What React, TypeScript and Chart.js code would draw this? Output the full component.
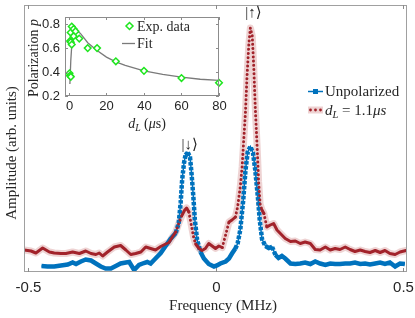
import React, { useEffect, useRef } from "react";
import { Chart, registerables } from "chart.js";
Chart.register(...registerables);

// ---------- main spectrum data ----------
const freqTicks = [-0.5, 0, 0.5];
const freqTickLabels = ["-0.5", "0", "0.5"];

const unpolFreq = [
  -0.464, -0.448, -0.43, -0.412, -0.394, -0.381, -0.372, -0.359, -0.346, -0.332, -0.319, -0.306, -0.293, -0.279,
  -0.266, -0.253, -0.239, -0.23, -0.217, -0.204, -0.191, -0.182, -0.173, -0.16, -0.146, -0.133, -0.12, -0.106,
  -0.098, -0.093, -0.089, -0.084, -0.08, -0.074, -0.068, -0.064, -0.059, -0.055, -0.049, -0.04, -0.031, -0.018,
  -0.004, 0.004, 0.013, 0.027, 0.036, 0.044, 0.053, 0.059, 0.066, 0.074, 0.08, 0.086, 0.093, 0.1, 0.106, 0.113,
  0.118, 0.124, 0.133, 0.142, 0.151, 0.16, 0.168, 0.177, 0.186, 0.2, 0.213, 0.226, 0.239, 0.253, 0.266, 0.279,
  0.293, 0.306, 0.319, 0.332, 0.346, 0.359, 0.372, 0.386, 0.399, 0.412, 0.426, 0.439, 0.452, 0.465, 0.479, 0.492,
  0.505,
];
const unpolAmp = [
  6, 5.5, 5.5, 6.5, 7.5, 9.5, 8, 10.5, 12.5, 11.5, 8.5, 5.5, 3.5, 3.5,
  6, 8.5, 9.5, 10, 2, 7, 9, 10, 8.5, 13.5, 19, 26, 33, 39,
  49, 69, 92, 109, 117, 119.5, 115, 99, 75, 52, 32, 20, 13.5, 8,
  5.5, 6.5, 8.5, 10.5, 13.5, 18.5, 23.5, 28.5, 42, 72, 102, 120, 125.5, 119, 102, 75,
  52, 33, 26, 24, 25, 17, 14, 16, 13.5, 8.5, 8, 8.5, 9.5, 8, 10.5, 8.5,
  7, 8.5, 8, 8, 8.5, 8.5, 9.5, 8, 8.5, 7.5, 8.5, 9.5, 8, 9.5, 5.5, 8.5,
  8,
];

const polFreq = [
  -0.51, -0.492, -0.479, -0.461, -0.443, -0.43, -0.412, -0.399, -0.381, -0.363, -0.346, -0.332, -0.319, -0.31,
  -0.301, -0.288, -0.27, -0.253, -0.239, -0.226, -0.213, -0.199, -0.186, -0.173, -0.16, -0.146, -0.133, -0.124,
  -0.115, -0.106, -0.098, -0.089, -0.082, -0.077, -0.071, -0.067, -0.062, -0.058, -0.053, -0.044, -0.036, -0.027,
  -0.018, -0.009, 0, 0.009, 0.018, 0.027, 0.036, 0.044, 0.053, 0.059, 0.066, 0.071, 0.075, 0.08, 0.084, 0.089,
  0.093, 0.098, 0.102, 0.106, 0.111, 0.115, 0.119, 0.124, 0.129, 0.137, 0.146, 0.155, 0.164, 0.173, 0.186, 0.2,
  0.213, 0.226, 0.239, 0.253, 0.266, 0.279, 0.293, 0.306, 0.319, 0.332, 0.346, 0.359, 0.372, 0.386, 0.399, 0.412,
  0.426, 0.439, 0.452, 0.465, 0.479, 0.492, 0.508,
];
const polAmp = [
  22, 21, 19, 24, 20, 19, 18.5, 18.5, 20, 18.5, 21, 18.5, 17.5, 19,
  16, 20, 25, 26.5, 22, 17.5, 18.5, 20, 25, 23.5, 22, 25.5, 28, 29.5,
  35, 40, 48.5, 57, 62, 64, 60, 52, 42, 34, 28, 23.5, 21.5, 23.5,
  28.5, 26, 23.5, 26, 24.5, 37, 50, 52, 55, 65, 85, 105, 130, 160, 195, 228,
  244, 236, 205, 165, 125, 90, 68, 62, 58.5, 45, 47, 48.5, 42, 38.5, 33.5, 30.5,
  31, 28.5, 30, 28.5, 22.5, 22, 25, 22, 23.5, 22.5, 25, 22.5, 20.5, 22, 20.5, 19.5,
  21.5, 19.5, 21.5, 18.5, 17.5, 20, 21.5,
];

const stateLabels = ["|\u2193\u27E9", "|\u2191\u27E9"];
const stateFreq = [-0.069, 0.101];
const stateAmp = [127, 259];

// ---------- inset data ----------
const delayData = [0.3, 0.6, 1.0, 0.6, 1.0, 1.5, 0.9, 1.5, 2.5, 3.5, 2.5, 5.5, 10, 15, 25, 40, 60, 80];
const polarizationData = [0.39, 0.37, 0.36, 0.66, 0.65, 0.63, 0.73, 0.78, 0.76, 0.74, 0.7, 0.68, 0.6, 0.6, 0.49, 0.41, 0.35, 0.31];
const fitDelay = [0.5, 1, 1.5, 2, 3, 4, 6, 8, 10, 15, 20, 25, 30, 40, 50, 60, 70, 80];
const fitPol = [0.3, 0.5, 0.62, 0.68, 0.73, 0.745, 0.725, 0.685, 0.645, 0.58, 0.525, 0.485, 0.455, 0.41, 0.38, 0.357, 0.34, 0.33];
const insetXTicks = [0, 20, 40, 60, 80];
const insetYTicks = [0.2, 0.4, 0.6, 0.8];

const BLUE = "#0072BD";
const RED = "#a2232b";
const PINK = "rgba(215,150,150,0.42)";
const GREEN = "#1ee61e";
const TXT = "#262626";
const SERIF = '"Liberation Serif", "DejaVu Serif", serif';
const SANS = '"Liberation Sans", Arial, sans-serif';

type Run = { t: string; it?: boolean; sub?: boolean };

function drawRuns(ctx: CanvasRenderingContext2D, runs: Run[], x: number, y: number, size: number, align: "left" | "center") {
  const fontFor = (r: Run) => `${r.it ? "italic " : ""}${r.sub ? size * 0.7 : size}px ${SERIF}`;
  let total = 0;
  for (const r of runs) {
    ctx.font = fontFor(r);
    total += ctx.measureText(r.t).width;
  }
  let cx = align === "center" ? x - total / 2 : x;
  ctx.textAlign = "left";
  ctx.textBaseline = "alphabetic";
  for (const r of runs) {
    ctx.font = fontFor(r);
    ctx.fillText(r.t, cx, y + (r.sub ? size * 0.22 : 0));
    cx += ctx.measureText(r.t).width;
  }
}

const steep = (c: any) => Math.abs(c.p1.y - c.p0.y) > 2 * Math.abs(c.p1.x - c.p0.x);

const mainDecor = {
  id: "mainDecor",
  afterDraw(chart: any) {
    const { ctx, chartArea: a, scales } = chart;
    const x = scales.x;
    const y = scales.y;
    ctx.save();
    // box
    ctx.strokeStyle = "#a0a0a0";
    ctx.lineWidth = 1;
    ctx.strokeRect(Math.round(a.left) + 0.5, Math.round(a.top) + 0.5, Math.round(a.right - a.left) - 1, Math.round(a.bottom - a.top) - 1);
    // ticks + labels
    ctx.strokeStyle = "#8a8a8a";
    ctx.fillStyle = TXT;
    ctx.font = `15px ${SANS}`;
    ctx.textAlign = "center";
    ctx.textBaseline = "middle";
    freqTicks.forEach((v, i) => {
      const px = Math.round(x.getPixelForValue(v)) + 0.5;
      ctx.beginPath();
      ctx.moveTo(px, a.bottom);
      ctx.lineTo(px, a.bottom - 4);
      ctx.moveTo(px, a.top);
      ctx.lineTo(px, a.top + 4);
      ctx.stroke();
      ctx.fillText(freqTickLabels[i], px, a.bottom + 16);
    });
    // axis titles
    ctx.fillStyle = TXT;
    drawRuns(ctx, [{ t: "Frequency (MHz)" }], 223, 310, 15, "center");
    ctx.save();
    ctx.translate(16, 153);
    ctx.rotate(-Math.PI / 2);
    drawRuns(ctx, [{ t: "Amplitude (arb. units)" }], 0, 0, 15, "center");
    ctx.restore();
    // state labels
    stateLabels.forEach((s, i) => {
      ctx.font = `15px ${SERIF}`;
      ctx.textAlign = "center";
      ctx.textBaseline = "middle";
      ctx.fillText(s, x.getPixelForValue(stateFreq[i]), y.getPixelForValue(stateAmp[i]));
    });
    // legend
    const lx0 = 308, lx1 = 323;
    ctx.strokeStyle = BLUE;
    ctx.lineWidth = 1.5;
    ctx.beginPath();
    ctx.moveTo(lx0, 91.5);
    ctx.lineTo(lx1, 91.5);
    ctx.stroke();
    ctx.fillStyle = BLUE;
    ctx.fillRect(313, 89, 5, 5);
    ctx.strokeStyle = PINK;
    ctx.lineWidth = 7;
    ctx.beginPath();
    ctx.moveTo(lx0, 110);
    ctx.lineTo(lx1, 110);
    ctx.stroke();
    ctx.fillStyle = RED;
    [310.5, 315.5, 320.5].forEach((dx) => {
      ctx.beginPath();
      ctx.arc(dx, 110, 1.4, 0, Math.PI * 2);
      ctx.fill();
    });
    ctx.fillStyle = TXT;
    drawRuns(ctx, [{ t: "Unpolarized" }], 325, 96, 15, "left");
    drawRuns(ctx, [{ t: "d", it: true }, { t: "L", it: true, sub: true }, { t: " = 1.1" }, { t: "\u03BCs", it: true }], 325, 115, 15, "left");
    ctx.restore();
  },
};

const insetDecor = {
  id: "insetDecor",
  afterDraw(chart: any) {
    const { ctx, chartArea: a, scales } = chart;
    const x = scales.x;
    const y = scales.y;
    ctx.save();
    ctx.strokeStyle = "#8c8c8c";
    ctx.lineWidth = 1;
    ctx.strokeRect(Math.round(a.left) + 0.5, Math.round(a.top) + 0.5, Math.round(a.right - a.left) - 1, Math.round(a.bottom - a.top) - 1);
    ctx.fillStyle = TXT;
    ctx.font = `13px ${SANS}`;
    ctx.textAlign = "center";
    ctx.textBaseline = "middle";
    insetXTicks.forEach((v) => {
      const px = Math.round(x.getPixelForValue(v)) + 0.5;
      ctx.beginPath();
      ctx.moveTo(px, a.bottom);
      ctx.lineTo(px, a.bottom - 3);
      ctx.moveTo(px, a.top);
      ctx.lineTo(px, a.top + 3);
      ctx.stroke();
      ctx.fillText(String(v), px, a.bottom + 10);
    });
    ctx.textAlign = "right";
    insetYTicks.forEach((v) => {
      const py = Math.round(y.getPixelForValue(v)) + 0.5;
      ctx.beginPath();
      ctx.moveTo(a.left, py);
      ctx.lineTo(a.left + 3, py);
      ctx.moveTo(a.right, py);
      ctx.lineTo(a.right - 3, py);
      ctx.stroke();
      ctx.fillText(v.toFixed(1), a.left - 5, py);
    });
    // titles
    drawRuns(ctx, [{ t: "d", it: true }, { t: "L", it: true, sub: true }, { t: " (" }, { t: "\u03BC", it: true }, { t: "s)" }], 147, 128, 14, "center");
    ctx.save();
    ctx.translate(38, 58);
    ctx.rotate(-Math.PI / 2);
    drawRuns(ctx, [{ t: "Polarization " }, { t: "p", it: true }], 0, 0, 14, "center");
    ctx.restore();
    // legend
    ctx.strokeStyle = GREEN;
    ctx.fillStyle = "#fff";
    ctx.lineWidth = 1.5;
    ctx.beginPath();
    ctx.moveTo(129.5, 22.5);
    ctx.lineTo(133, 26);
    ctx.lineTo(129.5, 29.5);
    ctx.lineTo(126, 26);
    ctx.closePath();
    ctx.fill();
    ctx.stroke();
    ctx.strokeStyle = "#7a7a7a";
    ctx.lineWidth = 1.3;
    ctx.beginPath();
    ctx.moveTo(122, 43.5);
    ctx.lineTo(135, 43.5);
    ctx.stroke();
    ctx.fillStyle = TXT;
    drawRuns(ctx, [{ t: "Exp. data" }], 137, 30.5, 14, "left");
    drawRuns(ctx, [{ t: "Fit" }], 137, 48, 14, "left");
    ctx.restore();
  },
};

export default function App() {
  const mainRef = useRef<HTMLCanvasElement>(null);
  const insetRef = useRef<HTMLCanvasElement>(null);

  useEffect(() => {
    const unpolPts = unpolFreq.map((f, i) => ({ x: f, y: unpolAmp[i] }));
    const polPts = polFreq.map((f, i) => ({ x: f, y: polAmp[i] }));
    const main = new Chart(mainRef.current!, {
      type: "line",
      data: {
        datasets: [
          { data: polPts, borderColor: PINK, borderWidth: 7, pointRadius: 0, order: 4, borderCapStyle: "round", borderJoinStyle: "round" } as any,
          { data: unpolPts, borderColor: BLUE, borderWidth: 1.5, pointRadius: 0, order: 3 },
          {
            data: unpolPts, borderColor: BLUE, borderWidth: 4.5, pointRadius: 0, order: 2,
            segment: { borderDash: (c: any) => (steep(c) ? [3.5, 1.5] : undefined) },
          } as any,
          {
            data: polPts, borderColor: RED, borderWidth: 3, pointRadius: 0, order: 1, borderCapStyle: "round", borderJoinStyle: "round",
            segment: { borderDash: (c: any) => (steep(c) ? [0.01, 4.2] : undefined) },
          } as any,
        ],
      },
      options: {
        animation: false,
        responsive: false,
        devicePixelRatio: 1,
        layout: { padding: { left: 24, right: 8, top: 5, bottom: 46 } },
        scales: {
          x: { type: "linear", min: -0.5107, max: 0.5107, display: false },
          y: { type: "linear", min: 0, max: 267, display: false },
        },
        plugins: { legend: { display: false }, tooltip: { enabled: false } },
        events: [],
      },
      plugins: [mainDecor],
    });

    const fitPts = fitDelay.map((d, i) => ({ x: d, y: fitPol[i] }));
    const expPts = delayData.map((d, i) => ({ x: d, y: polarizationData[i] }));
    const inset = new Chart(insetRef.current!, {
      type: "line",
      data: {
        datasets: [
          { data: fitPts, borderColor: "#7a7a7a", borderWidth: 1.3, pointRadius: 0, order: 2 },
          {
            data: expPts, showLine: false, pointStyle: "rectRot", pointRadius: 3.3, borderColor: GREEN,
            backgroundColor: "#ffffff", pointBorderWidth: 1.5, borderWidth: 1.5, order: 1, clip: false,
          } as any,
        ],
      },
      options: {
        animation: false,
        responsive: false,
        devicePixelRatio: 1,
        layout: { padding: { left: 65, right: 11, top: 17, bottom: 39 } },
        scales: {
          x: { type: "linear", min: -2.1, max: 80, display: false },
          y: { type: "linear", min: 0.2, max: 0.86, display: false },
        },
        plugins: { legend: { display: false }, tooltip: { enabled: false } },
        events: [],
      },
      plugins: [insetDecor],
    });

    return () => {
      main.destroy();
      inset.destroy();
    };
  }, []);

  return (
    <div style={{ position: "absolute", left: 0, top: 0, width: 415, height: 318, background: "#ffffff" }}>
      <canvas ref={mainRef} width={415} height={318} style={{ position: "absolute", left: 0, top: 0 }} />
      <canvas ref={insetRef} width={230} height={135} style={{ position: "absolute", left: 0, top: 0 }} />
    </div>
  );
}
